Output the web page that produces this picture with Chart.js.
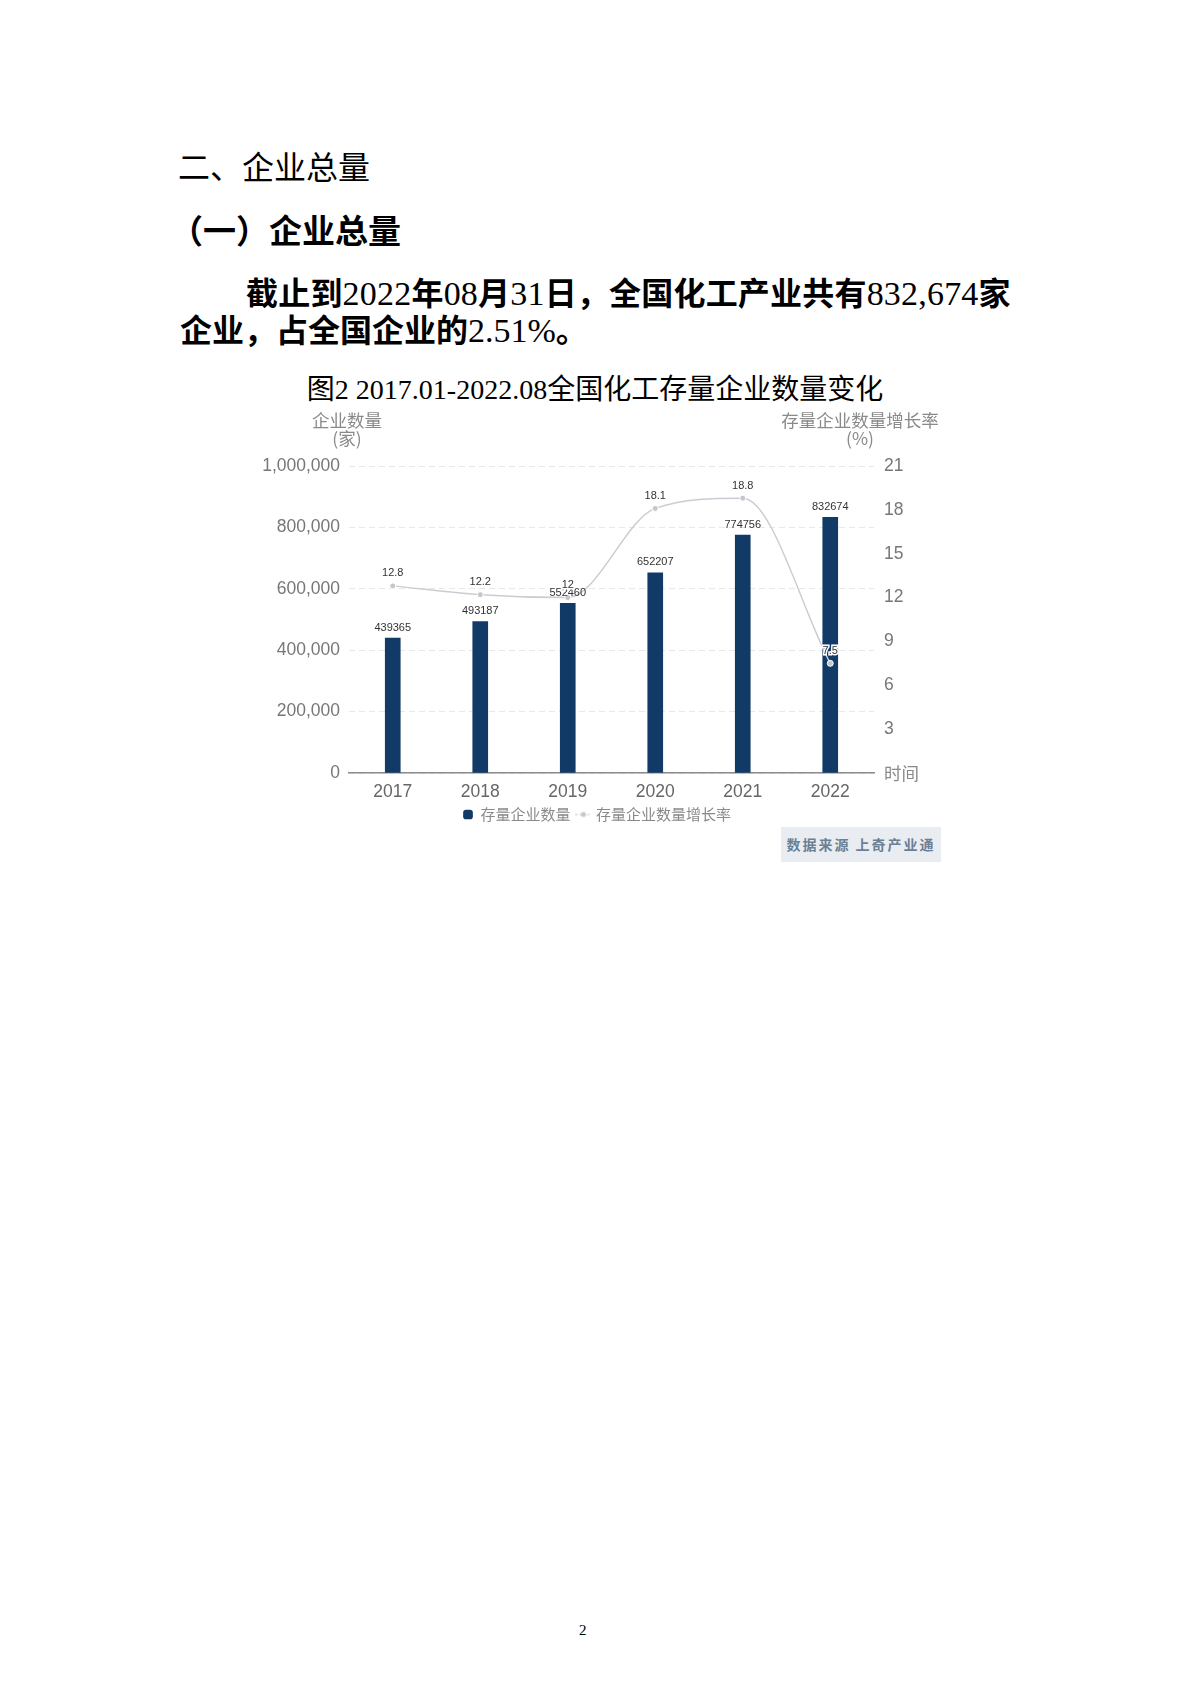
<!DOCTYPE html>
<html>
<head>
<meta charset="utf-8">
<script src="https://cdn.jsdelivr.net/npm/chart.js@4.4.1/dist/chart.umd.min.js"></script>
<style>
  body { margin: 0; background: #fff; }
  #page { position: relative; width: 1190px; height: 1683px; background: #fff; overflow: hidden; }
  .t { position: absolute; white-space: nowrap; color: #000; }
  .h1 { left: 178px; top: 147px; font: 400 32px/36px "Noto Sans CJK SC", sans-serif; }
  .h2 { left: 170px; top: 211px; font: 700 33px/36px "Noto Sans CJK SC", sans-serif; }
  .para { left: 180px; font: 700 32px/37px "Liberation Serif", "Noto Sans CJK SC", serif; }
  .para .n { font-weight: 400; font-size: 34px; line-height: 37px; }
  .l1 { top: 275px; left: 246px; letter-spacing: 0.2px; }
  .l2 { top: 312px; }
  .ctitle { left: 195px; width: 800px; top: 373px; text-align: center; font: 400 28px/34px "Liberation Serif", "Noto Sans CJK SC", serif; }
  #box { position: absolute; left: 236px; top: 400px; width: 722px; height: 432px; }
  .src { position: absolute; left: 781px; top: 827px; width: 160px; height: 35px; background: #e9edf2;
         color: #6b7f95; font: 700 14px/35px "Noto Sans CJK SC", sans-serif; letter-spacing: 2px; text-align: center; }
  .pn { left: 579px; top: 1620px; font: 400 15px/20px "Liberation Serif", serif; }
</style>
</head>
<body>
<div id="page">
  <div class="t h1">二、企业总量</div>
  <div class="t h2">（一）企业总量</div>
  <div class="t para l1">截止到<span class="n">2022</span>年<span class="n">08</span>月<span class="n">31</span>日，全国化工产业共有<span class="n">832,674</span>家</div>
  <div class="t para l2">企业，占全国企业的<span class="n">2.51%</span>。</div>
  <div class="t ctitle">图2 2017.01-2022.08全国化工存量企业数量变化</div>
  <div id="box"><canvas id="chart"></canvas></div>
  <div class="src">数据来源 上奇产业通</div>
  <div class="t pn">2</div>
</div>
<script>
const years = ['2017', '2018', '2019', '2020', '2021', '2022'];
const enterpriseCounts = [439365, 493187, 552460, 652207, 774756, 832674];
const growthRates = [12.8, 12.2, 12, 18.1, 18.8, 7.5];
const countAxisMax = 1000000;
const countAxisStep = 200000;
const rateAxisMax = 21;
const rateAxisStep = 3;

const tickFont = { family: 'Liberation Sans, Arial, sans-serif', size: 17.5 };

// legend icon for the line series: short grey line with a dot
const lineIcon = document.createElement('canvas');
lineIcon.width = 16;
lineIcon.height = 8;
(function () {
  const c = lineIcon.getContext('2d');
  c.strokeStyle = '#d3d6da';
  c.lineWidth = 1.5;
  c.setLineDash([2, 2]);
  c.beginPath();
  c.moveTo(0, 4);
  c.lineTo(16, 4);
  c.stroke();
  c.fillStyle = '#c4c8ce';
  c.beginPath();
  c.arc(8, 4, 2.5, 0, Math.PI * 2);
  c.fill();
})();

// axis names and value labels
const extras = {
  id: 'extras',
  afterDatasetsDraw(chart) {
    const ctx = chart.ctx;
    const area = chart.chartArea;
    ctx.save();
    ctx.fillStyle = '#8a8a8a';
    ctx.font = '17.5px "Noto Sans CJK SC", sans-serif';
    ctx.textAlign = 'center';
    ctx.textBaseline = 'middle';
    ctx.fillText('企业数量', area.left - 2, area.top - 46);
    ctx.fillText('(家)', area.left - 2, area.top - 28);
    ctx.fillText('存量企业数量增长率', area.right - 14, area.top - 46);
    ctx.fillText('(%)', area.right - 14, area.top - 28);
    ctx.textAlign = 'left';
    ctx.fillText('时间', area.right + 10, area.bottom);

    ctx.font = '11px "Liberation Sans", Arial, sans-serif';
    ctx.textAlign = 'center';
    ctx.textBaseline = 'bottom';
    ctx.fillStyle = '#333';
    chart.getDatasetMeta(0).data.forEach((el, i) => {
      ctx.fillText(enterpriseCounts[i], el.x, el.y - 5);
    });
    ctx.lineWidth = 3;
    ctx.strokeStyle = '#fff';
    chart.getDatasetMeta(1).data.forEach((el, i) => {
      ctx.strokeText(growthRates[i], el.x, el.y - 7);
      ctx.fillText(growthRates[i], el.x, el.y - 7);
    });
    ctx.restore();
  }
};

new Chart(document.getElementById('chart'), {
  data: {
    labels: years,
    datasets: [
      {
        type: 'bar',
        label: '存量企业数量',
        data: enterpriseCounts,
        backgroundColor: '#123a66',
        barThickness: 15,
        pointStyle: 'rectRounded',
        yAxisID: 'y',
        order: 2
      },
      {
        type: 'line',
        label: '存量企业数量增长率',
        data: growthRates,
        yAxisID: 'y1',
        borderColor: '#c9cdd3',
        borderWidth: 1.5,
        cubicInterpolationMode: 'monotone',
        pointRadius: 3,
        pointBackgroundColor: '#c4c8ce',
        pointBorderColor: '#fff',
        pointBorderWidth: 1,
        pointStyle: 'circle',
        order: 1
      }
    ]
  },
  options: {
    responsive: true,
    maintainAspectRatio: false,
    animation: false,
    layout: { padding: { top: 66, left: 0, right: 0, bottom: 0 } },
    plugins: {
      tooltip: { enabled: false },
      legend: {
        position: 'bottom',
        labels: {
          usePointStyle: true,
          boxWidth: 10,
          boxHeight: 8,
          padding: 8,
          color: '#8a8a8a',
          font: { family: '"Noto Sans CJK SC", sans-serif', size: 15 },
          sort: (a, b) => a.datasetIndex - b.datasetIndex,
          generateLabels: chart => {
            const items = Chart.defaults.plugins.legend.labels.generateLabels(chart);
            items.forEach(it => { if (it.datasetIndex === 1) it.pointStyle = lineIcon; });
            return items;
          }
        }
      }
    },
    scales: {
      x: {
        grid: { display: false, drawTicks: false },
        border: { color: '#8c8c8c', width: 1.5 },
        ticks: { color: '#666', font: tickFont, padding: 9 },
        afterFit: s => { s.height = 26; }
      },
      y: {
        position: 'left',
        min: 0,
        max: countAxisMax,
        ticks: { stepSize: countAxisStep, color: '#777', font: tickFont, padding: 9 },
        grid: { color: '#e8e8e8', drawTicks: false },
        border: { display: false, dash: [6, 4] },
        afterFit: s => { s.width = 113; }
      },
      y1: {
        position: 'right',
        min: 0,
        max: rateAxisMax,
        ticks: {
          stepSize: rateAxisStep,
          color: '#777',
          font: tickFont,
          padding: 10,
          callback: v => (v === 0 ? '' : v)
        },
        grid: { drawOnChartArea: false, drawTicks: false },
        border: { display: false },
        afterFit: s => { s.width = 84; }
      }
    }
  },
  plugins: [extras]
});
</script>
</body>
</html>
